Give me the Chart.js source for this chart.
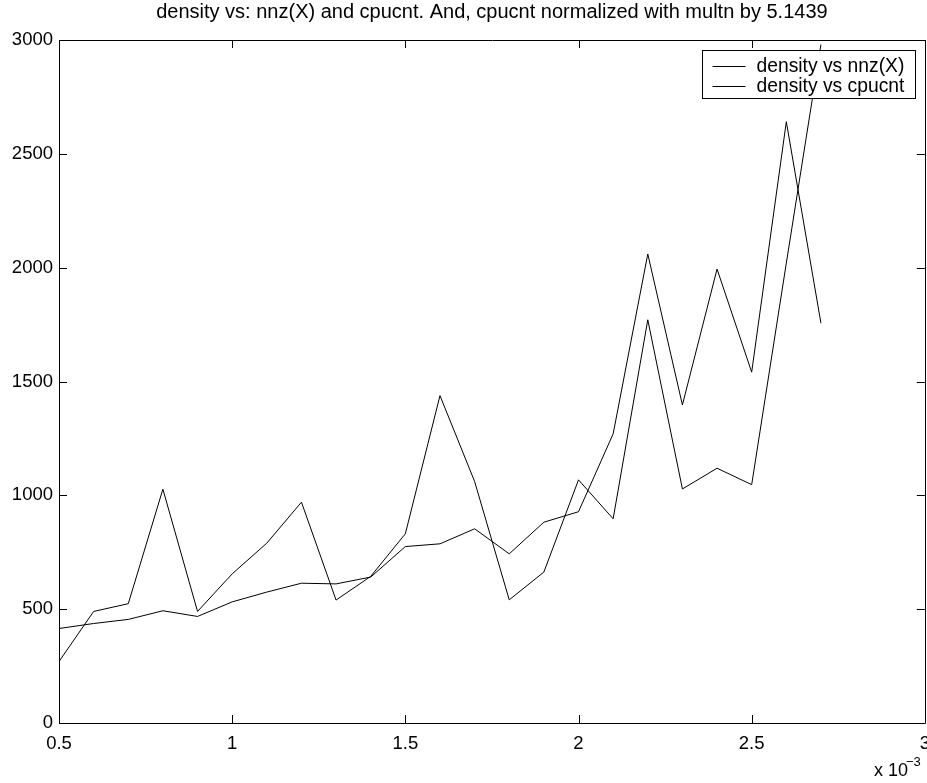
<!DOCTYPE html>
<html>
<head>
<meta charset="utf-8">
<script src="https://cdn.jsdelivr.net/npm/chart.js@4/dist/chart.umd.min.js"></script>
<style>
  html, body { margin: 0; padding: 0; background: #fff; overflow: hidden; }
  #wrap { width: 940px; height: 783px; }
</style>
</head>
<body>
<div id="wrap"><canvas id="chart" width="940" height="783"></canvas></div>
<script>
// density values (x 10^-3)
const densityValues = [0.5, 0.6, 0.7, 0.8, 0.9, 1.0, 1.1, 1.2, 1.3, 1.4, 1.5, 1.6,
                       1.7, 1.8, 1.9, 2.0, 2.1, 2.2, 2.3, 2.4, 2.5, 2.6, 2.7];
const nnzValues = [415, 437, 455, 493, 468, 532, 575, 614, 611, 641, 775, 787,
                   853, 743, 882, 928, 1270, 2060, 1397, 1994, 1541, 2641, 1756];
const cpucntValues = [270, 490, 524, 1027, 490, 655, 790, 970, 540, 644, 831, 1438,
                      1061, 541, 663, 1068, 897, 1771, 1028, 1119, 1047, 2020, 2980];
const seriesLabels = ["density vs nnz(X)", "density vs cpucnt"];
const xTicks = [0.5, 1, 1.5, 2, 2.5, 3];
const yTicks = [0, 500, 1000, 1500, 2000, 2500, 3000];
const titleText = "density vs: nnz(X) and cpucnt. And, cpucnt normalized with multn by 5.1439";

const FONT = "'Liberation Sans', Arial, Helvetica, sans-serif";

function toPoints(ys) {
    return ys.map((y, i) => ({ x: densityValues[i], y: y }));
}

// matlab style box, inward ticks, legend and exponent label
const matlabAxes = {
    id: "matlabAxes",
    afterDatasetsDraw(chart) {
        const ctx = chart.ctx;
        const a = chart.chartArea;
        const xs = chart.scales.x;
        const ys = chart.scales.y;
        const tl = 8;

        ctx.save();
        ctx.strokeStyle = "#000";
        ctx.lineWidth = 1;
        ctx.beginPath();
        ctx.rect(Math.round(a.left) + 0.5, Math.round(a.top) + 0.5,
                 Math.round(a.right - a.left), Math.round(a.bottom - a.top));
        xTicks.forEach(v => {
            const px = Math.round(xs.getPixelForValue(v)) + 0.5;
            ctx.moveTo(px, a.bottom); ctx.lineTo(px, a.bottom - tl);
            ctx.moveTo(px, a.top); ctx.lineTo(px, a.top + tl);
        });
        yTicks.forEach(v => {
            const py = Math.round(ys.getPixelForValue(v)) + 0.5;
            ctx.moveTo(a.left, py); ctx.lineTo(a.left + tl, py);
            ctx.moveTo(a.right, py); ctx.lineTo(a.right - tl, py);
        });
        ctx.stroke();

        // legend
        const bw = 213, bh = 48;
        const bx = Math.round(a.right - 10 - bw) + 0.5;
        const by = Math.round(a.top + 10) + 0.5;
        ctx.fillStyle = "#fff";
        ctx.fillRect(bx, by, bw, bh);
        ctx.strokeRect(bx, by, bw, bh);
        ctx.font = "19.3px " + FONT;
        ctx.textBaseline = "middle";
        ctx.textAlign = "left";
        chart.data.datasets.forEach((ds, i) => {
            const cy = Math.round(by + 15 + i * 20) + 0.5;
            ctx.strokeStyle = ds.borderColor;
            ctx.beginPath();
            ctx.moveTo(bx + 10, cy);
            ctx.lineTo(bx + 43, cy);
            ctx.stroke();
            ctx.fillStyle = "#000";
            ctx.fillText(ds.label, bx + 54, cy);
        });

        // x 10^-3
        ctx.fillStyle = "#000";
        ctx.textBaseline = "alphabetic";
        ctx.font = "18px " + FONT;
        ctx.fillText("x 10", 874, 776);
        ctx.font = "13px " + FONT;
        ctx.fillText("\u22123", 906, 766);
        ctx.restore();
    }
};

new Chart(document.getElementById("chart"), {
    type: "line",
    data: {
        datasets: [
            {
                label: seriesLabels[0],
                data: toPoints(nnzValues),
                borderColor: "#000",
                borderWidth: 1,
                pointRadius: 0,
                tension: 0,
                fill: false
            },
            {
                label: seriesLabels[1],
                data: toPoints(cpucntValues),
                borderColor: "#000",
                borderWidth: 1,
                pointRadius: 0,
                tension: 0,
                fill: false
            }
        ]
    },
    options: {
        responsive: false,
        animation: false,
        devicePixelRatio: 1,
        layout: { padding: { left: 0, right: 14, top: 0, bottom: 0 } },
        plugins: {
            legend: { display: false },
            tooltip: { enabled: false },
            title: {
                display: true,
                fullSize: false,
                text: titleText,
                color: "#000",
                font: { family: FONT, size: 20, weight: "normal" },
                padding: { top: 0, bottom: 16 }
            }
        },
        scales: {
            x: {
                type: "linear",
                min: 0.5,
                max: 3,
                afterFit(scale) { scale.height = 60; },
                afterBuildTicks(scale) { scale.ticks = xTicks.map(v => ({ value: v })); },
                ticks: {
                    color: "#000",
                    padding: 10,
                    maxRotation: 0,
                    font: { family: FONT, size: 18.5 },
                    callback: v => String(v)
                },
                grid: { display: false, drawTicks: false },
                border: { display: true, color: "#000", width: 1 }
            },
            y: {
                min: 0,
                max: 3000,
                afterFit(scale) { scale.width = 59; },
                afterBuildTicks(scale) { scale.ticks = yTicks.map(v => ({ value: v })); },
                ticks: {
                    color: "#000",
                    padding: 6,
                    font: { family: FONT, size: 18.5 },
                    callback: v => String(v)
                },
                grid: { display: false, drawTicks: false },
                border: { display: true, color: "#000", width: 1 }
            }
        }
    },
    plugins: [matlabAxes]
});
</script>
</body>
</html>
